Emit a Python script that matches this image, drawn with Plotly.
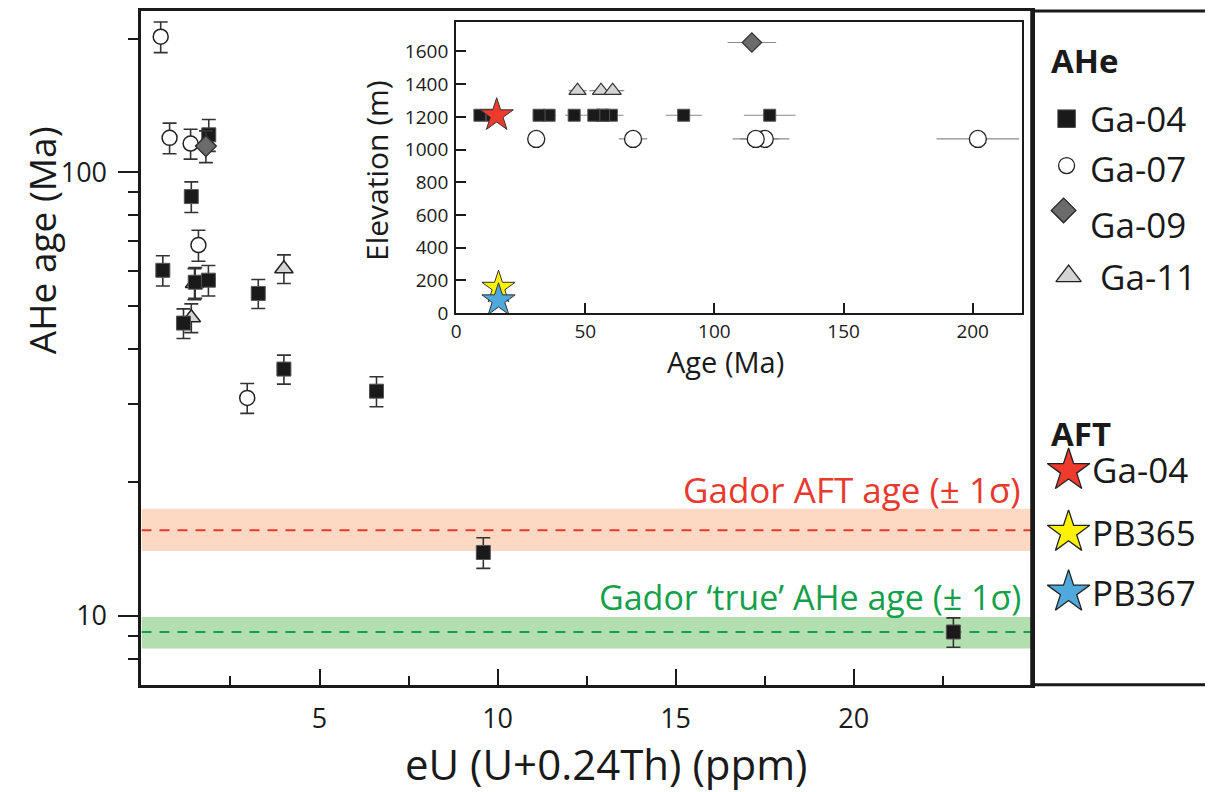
import plotly.graph_objects as go

# ---------------- data ----------------
ga04_eu = [1.89, 1.40, 0.60, 1.51, 1.88, 1.18, 3.28, 4.00, 6.60, 9.60, 22.80]
ga04_age = [121.4, 88.1, 60.1, 56.5, 57.1, 45.7, 53.3, 36.0, 32.1, 13.9, 9.2]
ga04_err = [10.0, 7.0, 4.7, 4.5, 4.5, 3.5, 4.0, 2.7, 2.5, 1.1, 0.7]
ga04_elev = 1210

ga07_eu = [0.54, 0.79, 1.38, 1.60, 2.97]
ga07_age = [202.0, 119.5, 116.0, 68.5, 31.0]
ga07_err = [16.0, 9.5, 9.0, 5.5, 2.4]
ga07_elev = 1065

ga09_eu = [1.81]
ga09_age = [114.5]
ga09_err = [9.4]
ga09_elev = 1655

ga11_eu = [1.49, 1.40, 4.00]
ga11_age = [56.1, 47.0, 60.6]
ga11_err = [4.5, 3.5, 4.5]
ga11_elev = 1360

aft_names = ["Ga-04", "PB365", "PB367"]
aft_age = [15.7, 16.4, 16.4]
aft_elev = [1210, 155, 78]
aft_colors = ["#ee3b2e", "#fff200", "#4fa9dc"]

aft_band = [14.0, 15.6, 17.45]      # low, centre, high (Ma)
true_band = [8.45, 9.2, 9.95]       # low, centre, high (Ma)

xmain_range = [0, 25]
xmain_major = [5, 10, 15, 20]
xmain_minor = [2.5, 7.5, 12.5, 17.5, 22.5]
ymain_major = [10, 100]
ymain_minor = [8, 9, 20, 30, 40, 50, 60, 70, 80, 90, 200]

inset_xticks = [0, 50, 100, 150, 200]
inset_yticks = [0, 200, 400, 600, 800, 1000, 1200, 1400, 1600]

# ---------------- helpers ----------------
# figure is drawn 8 px in from the page corner; the photographed page is
# slightly compressed vertically, so target rows are stretched by 1/0.986
OX, OY = 8, 8
W, H = 1213 - 2 * OX, 800
YS = 0.986
FONT = "Open Sans"
def px(x):
    return (x - OX) / W
def py(y):
    return 1 - (y / YS - OY) / H

EB = dict(type="data", color="#333333", thickness=1.6, width=7)

fig = go.Figure()

# bands (main axes)
fig.add_trace(go.Scatter(x=[xmain_range[0], xmain_range[1], xmain_range[1], xmain_range[0]],
                         y=[aft_band[0], aft_band[0], aft_band[2], aft_band[2]],
                         fill="toself", fillcolor="#fdd9c4", line=dict(width=0),
                         mode="lines", hoverinfo="skip", showlegend=False))
fig.add_trace(go.Scatter(x=xmain_range, y=[aft_band[1]] * 2, mode="lines",
                         line=dict(color="#e8392f", width=2, dash="10px,8px"),
                         showlegend=False))
fig.add_trace(go.Scatter(x=[xmain_range[0], xmain_range[1], xmain_range[1], xmain_range[0]],
                         y=[true_band[0], true_band[0], true_band[2], true_band[2]],
                         fill="toself", fillcolor="#b3deb0", line=dict(width=0),
                         mode="lines", hoverinfo="skip", showlegend=False))
fig.add_trace(go.Scatter(x=xmain_range, y=[true_band[1]] * 2, mode="lines",
                         line=dict(color="#14a04a", width=2, dash="10px,8px"),
                         showlegend=False))

# main data
fig.add_trace(go.Scatter(x=ga07_eu, y=ga07_age, mode="markers", name="Ga-07",
                         error_y=dict(array=ga07_err, **EB),
                         marker=dict(symbol="circle", size=15, color="white",
                                     line=dict(color="#222222", width=1.5))))
fig.add_trace(go.Scatter(x=ga11_eu, y=ga11_age, mode="markers", name="Ga-11",
                         error_y=dict(array=ga11_err, **EB),
                         marker=dict(symbol="triangle-up", size=16, color="#d4d4d4",
                                     line=dict(color="#222222", width=1.5))))
fig.add_trace(go.Scatter(x=ga04_eu, y=ga04_age, mode="markers", name="Ga-04",
                         error_y=dict(array=ga04_err, **EB),
                         marker=dict(symbol="square", size=14, color="#1a1a1a",
                                     line=dict(color="#555555", width=1))))
fig.add_trace(go.Scatter(x=ga09_eu, y=ga09_age, mode="markers", name="Ga-09",
                         error_y=dict(array=ga09_err, **EB),
                         marker=dict(symbol="diamond", size=16, color="#6b6b6b",
                                     line=dict(color="#333333", width=1.5))))

# inset data
EBX = dict(type="data", color="#8a8a8a", thickness=1.2, width=0)
fig.add_trace(go.Scatter(x=ga07_age, y=[ga07_elev] * len(ga07_age), mode="markers",
                         xaxis="x2", yaxis="y2", error_x=dict(array=ga07_err, **EBX),
                         marker=dict(symbol="circle", size=17, color="white",
                                     line=dict(color="#222222", width=1.3)),
                         showlegend=False))
fig.add_trace(go.Scatter(x=ga11_age, y=[ga11_elev] * len(ga11_age), mode="markers",
                         xaxis="x2", yaxis="y2", error_x=dict(array=ga11_err, **EBX),
                         marker=dict(symbol="triangle-up", size=15, color="#d4d4d4",
                                     line=dict(color="#333333", width=1.2)),
                         showlegend=False))
fig.add_trace(go.Scatter(x=ga04_age, y=[ga04_elev] * len(ga04_age), mode="markers",
                         xaxis="x2", yaxis="y2", error_x=dict(array=ga04_err, **EBX),
                         marker=dict(symbol="square", size=12, color="#1a1a1a",
                                     line=dict(color="#555555", width=1)),
                         showlegend=False))
fig.add_trace(go.Scatter(x=ga09_age, y=[ga09_elev], mode="markers",
                         xaxis="x2", yaxis="y2", error_x=dict(array=ga09_err, **EBX),
                         marker=dict(symbol="diamond", size=15, color="#6b6b6b",
                                     line=dict(color="#333333", width=1.2)),
                         showlegend=False))
for i in [1, 2, 0]:
    fig.add_trace(go.Scatter(x=[aft_age[i]], y=[aft_elev[i]], mode="markers",
                             xaxis="x2", yaxis="y2",
                             marker=dict(symbol="star", size=25, color=aft_colors[i],
                                         line=dict(color="#333333", width=1)),
                             showlegend=False))

# ---------------- legend panel (axis x3/y3 in reference pixel units) ----------------
leg_sym = [("square", 17, "#1a1a1a", 118, 1066),
           ("circle", 16, "white", 165, 1066),
           ("diamond", 19, "#6b6b6b", 210, 1063),
           ("triangle-up", 22, "#d4d4d4", 276, 1068)]
for sym, sz, col, yy, xx in leg_sym:
    fig.add_trace(go.Scatter(x=[xx], y=[yy], mode="markers", xaxis="x3", yaxis="y3",
                             marker=dict(symbol=sym, size=sz, color=col,
                                         line=dict(color="#222222", width=1.3)),
                             showlegend=False, hoverinfo="skip"))
for i, yy in enumerate([471, 533, 593]):
    fig.add_trace(go.Scatter(x=[1068], y=[yy], mode="markers", xaxis="x3", yaxis="y3",
                             marker=dict(symbol="star", size=32, color=aft_colors[i],
                                         line=dict(color="#222222", width=1.3)),
                             showlegend=False, hoverinfo="skip"))

ann = []
def text(x, y, s, size, color="#1a1a1a", xanchor="left", bold=False, angle=0,
         yanchor="middle"):
    if bold:
        s = "<b>" + s + "</b>"
    ann.append(dict(x=px(x), y=py(y), xref="paper", yref="paper", text=s,
                    showarrow=False, xanchor=xanchor, yanchor=yanchor,
                    textangle=angle, font=dict(family=FONT, size=size, color=color)))

text(1048, 60, "AHe", 33, bold=True)
text(1088, 118, "Ga-04", 35)
text(1088, 168, "Ga-07", 35)
text(1088, 224, "Ga-09", 35)
text(1098, 276, "Ga-11", 35)
text(1048, 434, "AFT", 33, bold=True)
text(1090, 470, aft_names[0], 35)
text(1090, 533, aft_names[1], 35)
text(1090, 593, aft_names[2], 35)

text(1022, 490, "Gador AFT age (± 1σ)", 35, color="#e8392f", xanchor="right")
text(1022, 598, "Gador ‘true’ AHe age (± 1σ)", 34, color="#14a04a", xanchor="right")

text(36, 240, "AHe age (Ma)", 37, angle=-90, xanchor="center")
text(603, 765, "eU (U+0.24Th) (ppm)", 42, xanchor="center")
text(373, 170, "Elevation (m)", 30, angle=-90, xanchor="center")
text(723, 362, "Age (Ma)", 29, xanchor="center")

fig.update_layout(
    width=W, height=H, margin=dict(l=0, r=0, t=0, b=0),
    paper_bgcolor="white", plot_bgcolor="rgba(0,0,0,0)",
    showlegend=False, annotations=ann,
    font=dict(family=FONT, color="#1a1a1a"),
    xaxis=dict(domain=[px(137), px(1031)], range=xmain_range, showgrid=False,
               zeroline=False, showline=True, linewidth=3, linecolor="#1a1a1a",
               mirror=True, ticks="inside", ticklen=16, tickwidth=1.5,
               tickcolor="#1a1a1a", tickvals=xmain_major,
               ticktext=[str(v) for v in xmain_major],
               tickfont=dict(size=27, family=FONT), ticklabelstandoff=8,
               minor=dict(tickvals=xmain_minor, ticks="inside", ticklen=9,
                          tickwidth=1.5, tickcolor="#1a1a1a")),
    yaxis=dict(domain=[py(686), py(10)], type="log", range=[0.845, 2.363],
               showgrid=False, zeroline=False, showline=True, linewidth=3,
               linecolor="#1a1a1a", mirror=True, ticks="outside", ticklen=20,
               tickwidth=1.5, tickcolor="#1a1a1a", tickvals=ymain_major,
               ticktext=[str(v) for v in ymain_major],
               tickfont=dict(size=27, family=FONT), ticklabelstandoff=6,
               minor=dict(tickvals=ymain_minor, ticks="outside", ticklen=10,
                          tickwidth=1.5, tickcolor="#1a1a1a")),
    xaxis2=dict(domain=[px(453), px(1021)], anchor="y2", range=[0, 219],
                showgrid=False, zeroline=False, showline=True, linewidth=2,
                linecolor="#1a1a1a", mirror=True, ticks="inside", ticklen=10,
                tickwidth=1.5, tickcolor="#1a1a1a", tickvals=inset_xticks,
                tickfont=dict(size=19, family=FONT), ticklabelstandoff=0),
    yaxis2=dict(domain=[py(313), py(21)], anchor="x2", range=[0, 1780],
                showgrid=False, zeroline=False, showline=True, linewidth=2,
                linecolor="#1a1a1a", mirror=True, ticks="inside", ticklen=10,
                tickwidth=1.5, tickcolor="#1a1a1a", tickvals=inset_yticks,
                tickfont=dict(size=19, family=FONT), ticklabelstandoff=2),
    xaxis3=dict(domain=[px(1031), 1], anchor="y3", range=[1031, 1205], visible=False),
    yaxis3=dict(domain=[py(686), py(10)], anchor="x3", range=[686, 10], visible=False),
    shapes=[dict(type="rect", xref="paper", yref="paper", x0=px(453), x1=px(1021),
                 y0=py(313), y1=py(21), fillcolor="white", line=dict(width=0),
                 layer="below"),
            dict(type="rect", xref="paper", yref="paper", x0=px(1031), x1=px(1210),
                 y0=py(686), y1=py(10), line=dict(color="#1a1a1a", width=3))],
)

fig.write_html("out.html")
